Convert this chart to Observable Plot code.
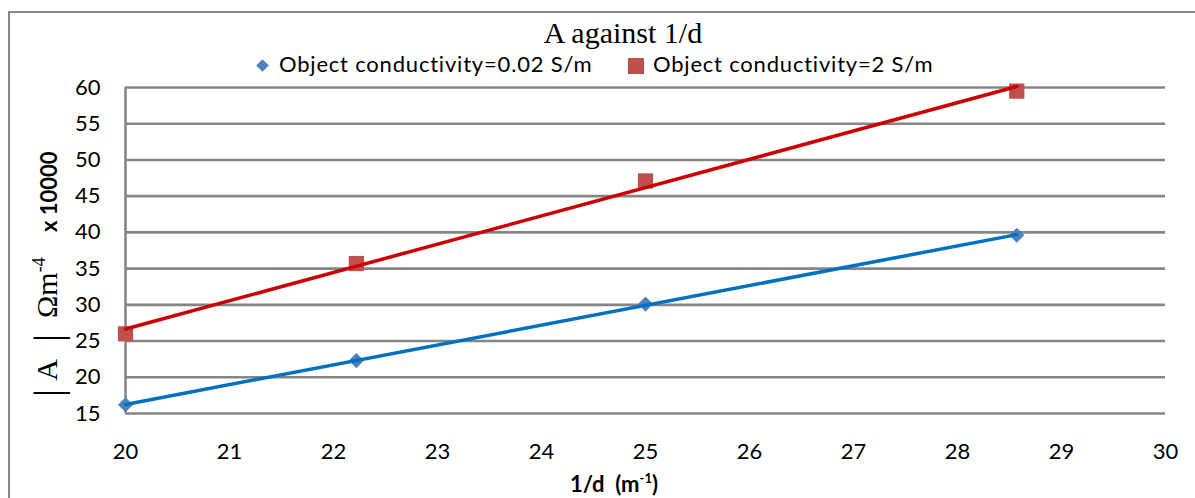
<!DOCTYPE html>
<html><head><meta charset="utf-8">
<script src="https://cdn.jsdelivr.net/npm/d3@7"></script>
<script src="https://cdn.jsdelivr.net/npm/@observablehq/plot@0.6"></script>
<style>
body{margin:0;background:#fff;}
#wrap{position:relative;width:1195px;height:498px;overflow:hidden;background:#fff;}
#frame{position:absolute;left:8px;top:11px;width:1400px;height:700px;border:2px solid #868686;box-sizing:border-box;}
#title{position:absolute;left:0;width:1246px;top:18px;text-align:center;font-family:"Liberation Serif",serif;font-size:30px;line-height:30px;color:#000;}
.leg{position:absolute;top:53px;font-family:Lato,sans-serif;font-size:22px;line-height:22px;letter-spacing:0.8px;color:#000;white-space:nowrap;}
.mk{position:absolute;}
#chart{position:absolute;left:0;top:70px;}
#chart svg{overflow:visible;}
</style></head>
<body>
<div id="wrap">
  <div id="frame"></div>
  <div id="title">A against 1/d</div>
  <div class="mk" style="left:258px;top:61px;width:9px;height:9px;background:#4F81BD;transform:rotate(45deg);"></div>
  <div class="leg" style="left:279px;">Object conductivity=0.02 S/m</div>
  <div class="mk" style="left:628px;top:58px;width:16px;height:16px;background:#C0504D;"></div>
  <div class="leg" style="left:653px;">Object conductivity=2 S/m</div>
  <div id="chart"></div>
</div>
<script>
const invD = [20, 22.22, 25, 28.57];
const lowCond = [16.2, 22.3, 30.1, 39.6];
const highCond = [26.0, 35.7, 47.1, 59.5];
const xTicks = [20, 21, 22, 23, 24, 25, 26, 27, 28, 29, 30];
const yTicks = [15, 20, 25, 30, 35, 40, 45, 50, 55, 60];

const low = invD.map((x, i) => ({x, y: lowCond[i]}));
const high = invD.map((x, i) => ({x, y: highCond[i]}));

const plot = Plot.plot({
  width: 1195, height: 428,
  marginLeft: 125, marginRight: 30, marginTop: 17, marginBottom: 85,
  style: {fontFamily: "Lato, sans-serif", fontSize: "22px", color: "#000", background: "transparent", overflow: "visible"},
  x: {domain: [20, 30], ticks: xTicks, label: null},
  y: {domain: [15, 60], ticks: yTicks, label: null},
  marks: [
    Plot.gridY(yTicks, {stroke: "#868686", strokeWidth: 2.6, strokeOpacity: 1}),
    Plot.ruleX([20], {stroke: "#868686", strokeWidth: 2.6}),
    Plot.axisX(xTicks, {tickSize: 0, tickPadding: 30, fill: "#000", fontSize: 22, label: null}),
    Plot.axisY(yTicks, {tickSize: 0, tickPadding: 25, fill: "#000", fontSize: 22, label: null}),
    Plot.dot(low, {x: "x", y: "y", symbol: "diamond2", r: 6.8, fill: "#4F81BD", stroke: "none"}),
    Plot.dot(high, {x: "x", y: "y", symbol: "square", r: 8.6, fill: "#C0504D", stroke: "none"}),
    Plot.linearRegressionY(low, {x: "x", y: "y", stroke: "#0070C0", strokeWidth: 3.5, ci: 0}),
    Plot.linearRegressionY(high, {x: "x", y: "y", stroke: "#CC0000", strokeWidth: 3.5, ci: 0})
  ]
});
document.getElementById("chart").appendChild(plot);

const svg = d3.select(plot);
const off = 70;
const serif = "'Liberation Serif', serif";
// y axis title pieces (rotated)
const rot = (x, y) => `translate(${x},${y}) rotate(-90)`;
svg.append("text").attr("transform", rot(61, 393 - off)).attr("text-anchor", "middle")
  .attr("font-family", serif).attr("font-size", 40).attr("fill", "#000").text("|");
svg.append("text").attr("transform", rot(57, 370 - off)).attr("text-anchor", "middle")
  .attr("font-family", serif).attr("font-size", 30).attr("fill", "#000").text("A");
svg.append("text").attr("transform", rot(61, 338 - off)).attr("text-anchor", "middle")
  .attr("font-family", serif).attr("font-size", 40).attr("fill", "#000").text("|");
const om = svg.append("text").attr("transform", rot(57, 318 - off)).attr("text-anchor", "start")
  .attr("font-family", serif).attr("font-size", 30).attr("fill", "#000");
om.append("tspan").text("Ωm");
om.append("tspan").attr("font-size", 18).attr("dy", -12).text("-4");
svg.append("text").attr("transform", rot(57, 232 - off)).attr("text-anchor", "start")
  .attr("font-family", "Lato, sans-serif").attr("font-weight", "bold").attr("font-size", 22).attr("fill", "#000")
  .text("x 10000");
// x axis title
const xt = svg.append("text").attr("x", 614).attr("y", 492 - off).attr("text-anchor", "middle")
  .attr("font-family", "Lato, sans-serif").attr("font-weight", "bold").attr("font-size", 22).attr("fill", "#000")
  .attr("xml:space", "preserve");
xt.append("tspan").text("1/d  (m");
xt.append("tspan").attr("font-size", 13).attr("dy", -9).text("-1");
xt.append("tspan").attr("dy", 9).text(")");
</script>
</body></html>
